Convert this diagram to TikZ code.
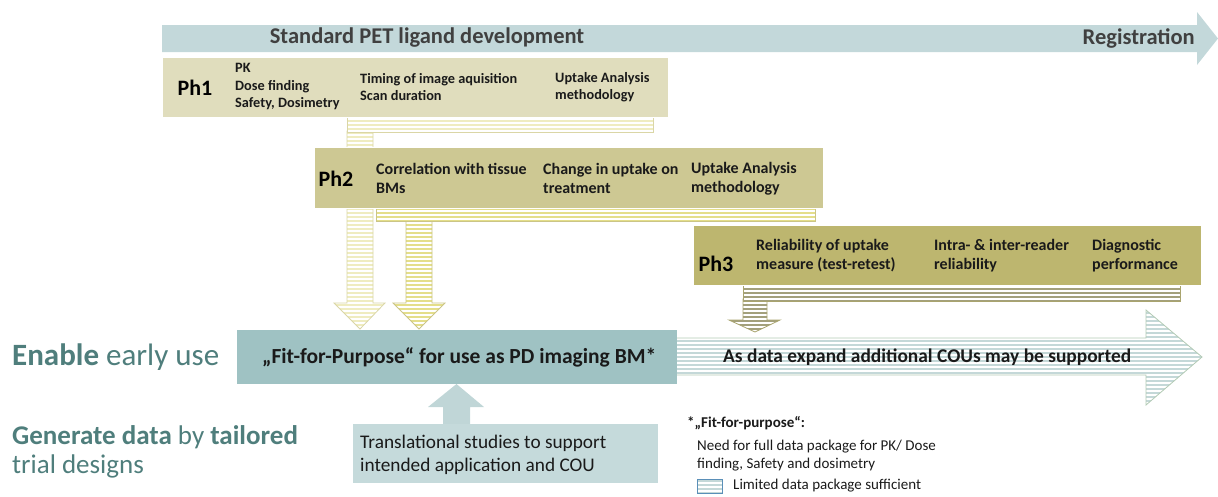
\documentclass[tikz,border=0pt]{standalone}
\usepackage{fontspec}
\setmainfont{Carlito}
\definecolor{topblue}{HTML}{C3D8DA}
\definecolor{phone}{HTML}{E0DDBD}
\definecolor{phtwo}{HTML}{CDC893}
\definecolor{phthree}{HTML}{BDB66F}
\definecolor{fitbox}{HTML}{9FC2C3}
\definecolor{transbox}{HTML}{C5DADB}
\definecolor{uparrow}{HTML}{C0D6D7}
\definecolor{sonel}{HTML}{EFECC0}
\definecolor{soneb}{HTML}{DAD6A6}
\definecolor{stwol}{HTML}{E4DE8A}
\definecolor{stwob}{HTML}{CBC586}
\definecolor{sthreel}{HTML}{A3A07C}
\definecolor{sthreeb}{HTML}{A9A46E}
\definecolor{bigl}{HTML}{C4D8D8}
\definecolor{bigb}{HTML}{B3CBB5}
\definecolor{legb}{HTML}{5A8FB8}
\definecolor{tealtext}{HTML}{4F7E7C}
\definecolor{darktext}{HTML}{404040}
\definecolor{bodytext}{HTML}{1A1A1A}
\newcommand\stripefill[3]{%
  \fill[white] #1;
  \begin{scope}
    \clip #1;
    \foreach \yy in {1,5,...,497} \draw[#2, line width=1.05pt] (0,\yy) -- (1218,\yy);
  \end{scope}
  \draw[#3, line width=0.8pt] #1;
}
\tikzset{
  phlabel/.style={font=\fontsize{22}{24}\selectfont\bfseries, text=black, anchor=center},
  coltext/.style={font=\fontsize{14.3}{17.5}\selectfont\bfseries, text=bodytext, anchor=west, align=left, inner sep=0pt},
  coltextb/.style={font=\fontsize{16}{19}\selectfont\bfseries, text=bodytext, anchor=west, align=left, inner sep=0pt},
  headtext/.style={font=\fontsize{22.5}{26}\selectfont\bfseries, text=darktext, inner sep=0pt},
  tealbig/.style={text=tealtext, anchor=west, inner sep=0pt},
  legtext/.style={font=\fontsize{15}{18.5}\selectfont, text=bodytext, anchor=west, inner sep=0pt, align=left},
}
\begin{document}
\begin{tikzpicture}[x=1pt,y=-1pt]
\useasboundingbox (0,0) rectangle (1218,496);
% top arrow
\fill[topblue] (162,25) -- (1197,25) -- (1197,12) -- (1218,38.5) -- (1197,65) -- (1197,52) -- (162,52) -- cycle;
\node[headtext] (std) at (427,38) {Standard PET ligand development};
\node[headtext, anchor=east] (reg) at (1195,38) {Registration};
% Ph1 shaft (behind Ph2)
\stripefill{(347,131) -- (373,131) -- (373,303) -- (385,303) -- (360,329) -- (334,303) -- (347,303) -- cycle}{sonel}{soneb}
% Ph1 box and strip
\stripefill{(347,117) rectangle (653,132)}{sonel}{soneb}
\fill[phone] (162,57) rectangle (668,117);
\draw[white, line width=0.8pt] (162,57) rectangle (668,117);
\node[phlabel] (ph1) at (195,88) {Ph1};
\node[coltext] (p1a) at (235,86.5) {PK\\Dose finding\\Safety, Dosimetry};
\node[coltext] (p1b) at (360,87) {Timing of image aquisition\\Scan duration};
\node[coltext] (p1c) at (555,87) {Uptake Analysis\\methodology};
% Ph2 strip and shaft
\stripefill{(406,219) -- (432,219) -- (432,303) -- (445,303) -- (419,329) -- (393,303) -- (406,303) -- cycle}{stwol}{stwob}
\stripefill{(376,207) rectangle (815,221)}{stwol}{stwob}
\fill[phtwo] (314,147) rectangle (823,208);
\draw[white, line width=0.8pt] (314,147) rectangle (823,208);
\node[phlabel] (ph2) at (336,179) {Ph2};
\node[coltextb] (p2a) at (376,178.5) {Correlation with tissue\\BMs};
\node[coltextb] (p2b) at (543,178.5) {Change in uptake on\\treatment};
\node[coltextb] (p2c) at (691,178.5) {Uptake Analysis\\methodology};
% Ph3 strip and shaft
\stripefill{(743,299) -- (767,299) -- (767,320) -- (780,320) -- (755,332) -- (729,320) -- (743,320) -- cycle}{sthreel}{sthreeb}
\stripefill{(743,284) rectangle (1180,301)}{sthreel}{sthreeb}
\fill[phthree] (693,225) rectangle (1201,285);
\draw[white, line width=0.8pt] (693,225) rectangle (1201,285);
\node[phlabel] (ph3) at (716,264) {Ph3};
\node[coltextb] (p3a) at (756,255.5) {Reliability of uptake\\measure (test-retest)};
\node[coltextb] (p3b) at (934,255.5) {Intra- \& inter-reader\\reliability};
\node[coltextb] (p3c) at (1092,255.5) {Diagnostic\\performance};
% big arrow
\stripefill{(670,338) -- (1146,338) -- (1146,310) -- (1202,357) -- (1146,405) -- (1146,375) -- (670,375) -- cycle}{bigl}{bigb}
\node[font=\fontsize{19.4}{22}\selectfont\bfseries, text=bodytext, anchor=west, inner sep=0pt] (cou) at (723,357) {As data expand additional COUs may be supported};
% fit box
\node[fill=fitbox, minimum width=440pt, minimum height=54pt, inner sep=0pt, anchor=north west] (fit) at (237,330) {};
\node[font=\fontsize{21.5}{24}\selectfont\bfseries, text=bodytext, anchor=west, inner sep=0pt] (fittext) at (262,357) {„Fit-for-Purpose“ for use as PD imaging BM*};
% up arrow and translational box
\fill[uparrow] (443,424) -- (443,407) -- (428,407) -- (456.5,384) -- (484,407) -- (470,407) -- (470,424) -- cycle;
\node[fill=transbox, minimum width=305pt, minimum height=59pt, inner sep=0pt, anchor=north west] (trans) at (353,424) {};
\node[font=\fontsize{19.3}{23}\selectfont, text=bodytext, anchor=west, align=left, inner sep=0pt] (transtext) at (360,454.5) {Translational studies to support\\intended application and COU};
% left texts
\node[tealbig, font=\fontsize{31}{34}\selectfont] (enable) at (12,357) {\textbf{Enable} early use};
\node[tealbig, font=\fontsize{27}{29}\selectfont, align=left] (gen) at (12,451.5) {\textbf{Generate data} by \textbf{tailored}\\trial designs};
% legend
\node[legtext, font=\fontsize{15}{18}\selectfont\bfseries] (legh) at (687,423) {*„Fit-for-purpose“:};
\node[legtext] (legn) at (697,455.5) {Need for full data package for PK/ Dose\\finding, Safety and dosimetry};
\stripefill{(697,479) rectangle (722,493)}{bigl}{legb}
\node[legtext] (legl) at (733,486) {Limited data package sufficient};
\end{tikzpicture}
\end{document}
